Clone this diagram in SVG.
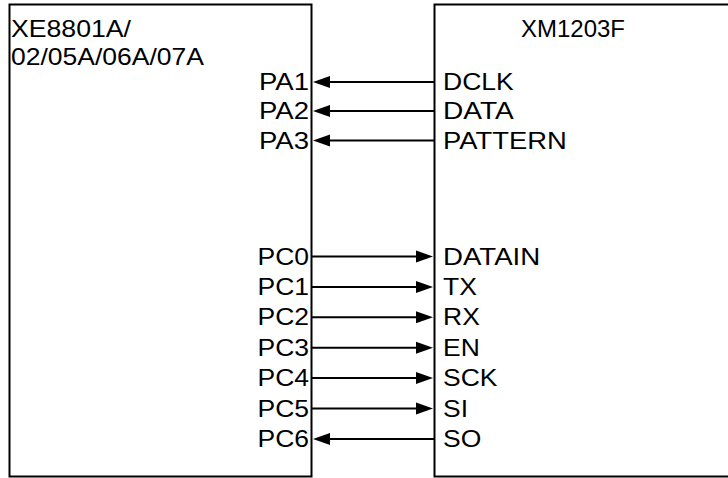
<svg xmlns="http://www.w3.org/2000/svg" width="728" height="478" viewBox="0 0 728 478">
<style>
.box{fill:#fff;stroke:#000;stroke-width:2}
.t{font-family:"Liberation Sans",Arial,sans-serif;font-size:24px;fill:#000}
.e{text-anchor:end}
.w{stroke:#000;stroke-width:2;fill:none}
.ah{fill:#000}
</style>
<rect width="728" height="478" fill="#fff"/>
<g id="mcu">
<rect class="box" x="9.5" y="4.5" width="302" height="472"/>
<text class="t" x="11" y="37" textLength="120" lengthAdjust="spacingAndGlyphs">XE8801A/</text>
<text class="t" x="11" y="65" textLength="193" lengthAdjust="spacingAndGlyphs">02/05A/06A/07A</text>
<text class="t e" x="309" y="90" textLength="50" lengthAdjust="spacingAndGlyphs">PA1</text>
<text class="t e" x="309" y="119" textLength="50" lengthAdjust="spacingAndGlyphs">PA2</text>
<text class="t e" x="309" y="148.5" textLength="50" lengthAdjust="spacingAndGlyphs">PA3</text>
<text class="t e" x="309" y="264.5" textLength="51.5" lengthAdjust="spacingAndGlyphs">PC0</text>
<text class="t e" x="309" y="294.9" textLength="51.5" lengthAdjust="spacingAndGlyphs">PC1</text>
<text class="t e" x="309" y="325.3" textLength="51.5" lengthAdjust="spacingAndGlyphs">PC2</text>
<text class="t e" x="309" y="355.7" textLength="51.5" lengthAdjust="spacingAndGlyphs">PC3</text>
<text class="t e" x="309" y="386.1" textLength="51.5" lengthAdjust="spacingAndGlyphs">PC4</text>
<text class="t e" x="309" y="416.5" textLength="51.5" lengthAdjust="spacingAndGlyphs">PC5</text>
<text class="t e" x="309" y="446.9" textLength="51.5" lengthAdjust="spacingAndGlyphs">PC6</text>
</g>
<g id="sensor">
<rect class="box" x="434.5" y="4.5" width="300" height="472"/>
<text class="t" x="521" y="37" textLength="104" lengthAdjust="spacingAndGlyphs">XM1203F</text>
<text class="t" x="443" y="90" textLength="70.7" lengthAdjust="spacingAndGlyphs">DCLK</text>
<text class="t" x="443" y="119" textLength="70.7" lengthAdjust="spacingAndGlyphs">DATA</text>
<text class="t" x="443" y="148.5" textLength="123.7" lengthAdjust="spacingAndGlyphs">PATTERN</text>
<text class="t" x="443" y="264.5" textLength="97.2" lengthAdjust="spacingAndGlyphs">DATAIN</text>
<text class="t" x="443" y="294.9" textLength="33.9" lengthAdjust="spacingAndGlyphs">TX</text>
<text class="t" x="443" y="325.3" textLength="36.8" lengthAdjust="spacingAndGlyphs">RX</text>
<text class="t" x="443" y="355.7" textLength="36.8" lengthAdjust="spacingAndGlyphs">EN</text>
<text class="t" x="443" y="386.1" textLength="54.5" lengthAdjust="spacingAndGlyphs">SCK</text>
<text class="t" x="443" y="416.5" textLength="25" lengthAdjust="spacingAndGlyphs">SI</text>
<text class="t" x="443" y="446.9" textLength="38.3" lengthAdjust="spacingAndGlyphs">SO</text>
</g>
<g id="connectors">
<path class="w" d="M325 82H434M325 111H434M325 140.5H434M312 256.5H421M312 286.9H421M312 317.3H421M312 347.7H421M312 378.1H421M312 408.5H421M325 438.9H434"/>
<polygon class="ah" points="313,82 330,76 330,88"/>
<polygon class="ah" points="313,111 330,105 330,117"/>
<polygon class="ah" points="313,140.5 330,134.5 330,146.5"/>
<polygon class="ah" points="433,256.5 416,250.5 416,262.5"/>
<polygon class="ah" points="433,286.9 416,280.9 416,292.9"/>
<polygon class="ah" points="433,317.3 416,311.3 416,323.3"/>
<polygon class="ah" points="433,347.7 416,341.7 416,353.7"/>
<polygon class="ah" points="433,378.1 416,372.1 416,384.1"/>
<polygon class="ah" points="433,408.5 416,402.5 416,414.5"/>
<polygon class="ah" points="313,438.9 330,432.9 330,444.9"/>
</g>
</svg>
